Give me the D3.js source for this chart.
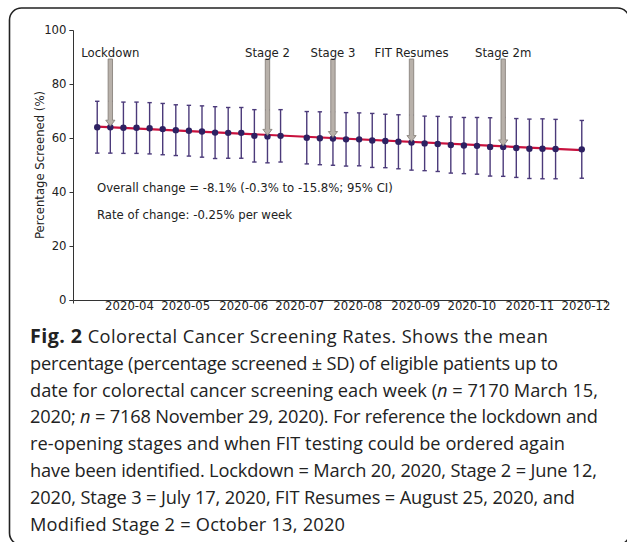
<!DOCTYPE html>
<html>
<head>
<meta charset="utf-8">
<script src="https://cdn.jsdelivr.net/npm/d3@7"></script>
<style>
  body { margin: 0; background: #fff; }
  svg { display: block; }
</style>
</head>
<body>
<div id="chart"></div>
<script>
// weekly means (percentage screened) and SDs
const weekDates = ["2020-03-15","2020-03-22","2020-03-29","2020-04-05","2020-04-12","2020-04-19","2020-04-26",
  "2020-05-03","2020-05-10","2020-05-17","2020-05-24","2020-05-31","2020-06-07","2020-06-14","2020-06-21",
  "2020-07-05","2020-07-12","2020-07-19","2020-07-26","2020-08-02","2020-08-09","2020-08-16","2020-08-23",
  "2020-08-30","2020-09-06","2020-09-13","2020-09-20","2020-09-27","2020-10-04","2020-10-11","2020-10-18",
  "2020-10-25","2020-11-01","2020-11-08","2020-11-15","2020-11-29"];
const meanValues = [64.0,64.0,63.8,63.8,63.6,63.3,62.9,62.7,62.4,62.0,61.9,61.9,60.8,60.6,60.8,
  60.1,59.9,59.8,59.5,59.5,59.1,58.9,58.6,58.3,58.0,57.8,57.4,57.2,57.1,56.7,56.7,56.3,56.0,56.0,55.9,55.8];
const sdValues = [9.6,9.6,9.5,9.5,9.5,9.5,9.4,9.4,9.5,9.6,9.4,9.4,9.7,9.8,9.7,
  9.7,9.8,9.9,9.9,9.8,10.0,9.9,10.0,10.2,10.1,10.2,10.4,10.4,10.5,10.8,10.9,10.9,11.0,11.1,11.0,10.7];

// fitted trend
const trendDates = ["2020-03-15","2020-11-29"];
const trendValues = [64.2, 55.5];

// event markers
const eventLabels = ["Lockdown","Stage 2","Stage 3","FIT Resumes","Stage 2m"];
const eventDates = ["2020-03-22","2020-06-14","2020-07-19","2020-08-30","2020-10-18"];

const yTicks = [0, 20, 40, 60, 80, 100];
const statLines = ["Overall change = -8.1% (-0.3% to -15.8%; 95% CI)", "Rate of change: -0.25% per week"];

const W = 627, H = 542;
const parse = d3.utcParse("%Y-%m-%d");
const pts = weekDates.map((d, i) => ({date: parse(d), mean: meanValues[i], sd: sdValues[i]}));

const svg = d3.select("#chart").append("svg").attr("width", W).attr("height", H);

// frame
svg.append("rect")
  .attr("x", 9.5).attr("y", 8).attr("width", 620).attr("height", 537)
  .attr("rx", 12)
  .attr("fill", "none").attr("stroke", "#222").attr("stroke-width", 1.6);

const plot = {left: 73, right: 606, top: 30, bottom: 300};

// matplotlib style 5% margins
const ext = d3.extent(pts, d => d.date);
const pad = (ext[1] - ext[0]) * 0.05;
const x = d3.scaleUtc()
  .domain([new Date(+ext[0] - pad), new Date(+ext[1] + pad)])
  .range([plot.left, plot.right]);
const y = d3.scaleLinear().domain([0, 100]).range([plot.bottom, plot.top]);

const font = "DejaVu Sans, sans-serif";
const fsz = 11.7;

// axes
const xAxis = svg.append("g")
  .attr("transform", `translate(0,${plot.bottom})`)
  .call(d3.axisBottom(x).ticks(d3.utcMonth.every(1)).tickFormat(d3.utcFormat("%Y-%m")).tickSizeOuter(0).tickSize(3.5).tickPadding(-1.5));
const yAxis = svg.append("g")
  .attr("transform", `translate(${plot.left},0)`)
  .call(d3.axisLeft(y).tickValues(yTicks).tickSizeOuter(0).tickSize(3.5).tickPadding(3));

[xAxis, yAxis].forEach(g => {
  g.select(".domain").attr("stroke", "#333").attr("stroke-width", 1);
  g.selectAll(".tick line").attr("stroke", "#333");
  g.selectAll("text").attr("fill", "#222").attr("font-family", font).attr("font-size", fsz);
});

svg.append("text")
  .attr("transform", `translate(44,165) rotate(-90)`)
  .attr("text-anchor", "middle")
  .attr("font-family", font).attr("font-size", fsz).attr("fill", "#222")
  .text("Percentage Screened (%)");

// error bars
const errColor = "#4b3a7a";
const eb = svg.append("g").attr("stroke", errColor).attr("stroke-width", 1.4);
eb.selectAll(".v").data(pts).join("line")
  .attr("x1", d => x(d.date)).attr("x2", d => x(d.date))
  .attr("y1", d => y(d.mean + d.sd)).attr("y2", d => y(d.mean - d.sd));
eb.selectAll(".ct").data(pts).join("line")
  .attr("x1", d => x(d.date) - 2.2).attr("x2", d => x(d.date) + 2.2)
  .attr("y1", d => y(d.mean + d.sd)).attr("y2", d => y(d.mean + d.sd));
eb.selectAll(".cb").data(pts).join("line")
  .attr("x1", d => x(d.date) - 2.2).attr("x2", d => x(d.date) + 2.2)
  .attr("y1", d => y(d.mean - d.sd)).attr("y2", d => y(d.mean - d.sd));

// trend line
svg.append("path")
  .datum(trendDates.map((d, i) => ({date: parse(d), v: trendValues[i]})))
  .attr("fill", "none").attr("stroke", "#c8123e").attr("stroke-width", 2.2)
  .attr("d", d3.line().x(d => x(d.date)).y(d => y(d.v)));

// markers
svg.selectAll(".dot").data(pts).join("circle")
  .attr("cx", d => x(d.date)).attr("cy", d => y(d.mean))
  .attr("r", 3.2).attr("fill", "#2e2162");

// event arrows
const lookup = new Map(pts.map(p => [+p.date, p.mean]));
eventLabels.forEach((lab, i) => {
  const dt = parse(eventDates[i]);
  const cx = x(dt);
  const top = 59, tip = y(lookup.get(+dt)) - 1;
  const sw = 2.2, hw = 4.6, hl = 6;
  svg.append("path")
    .attr("d", `M${cx - sw},${top}L${cx + sw},${top}L${cx + sw},${tip - hl}L${cx + hw},${tip - hl}L${cx},${tip}L${cx - hw},${tip - hl}L${cx - sw},${tip - hl}Z`)
    .attr("fill", "#b8b1aa").attr("stroke", "#807a74").attr("stroke-width", 0.8);
  svg.append("text")
    .attr("x", cx).attr("y", 57)
    .attr("text-anchor", "middle")
    .attr("font-family", font).attr("font-size", fsz).attr("fill", "#222")
    .text(lab);
});

// stats text
statLines.forEach((t, i) => {
  svg.append("text")
    .attr("x", 97).attr("y", 191.5 + i * 27)
    .attr("font-family", font).attr("font-size", fsz).attr("fill", "#222")
    .text(t);
});

// caption
const caption = [
  [["Fig. 2", "b"], [" Colorectal Cancer Screening Rates. Shows the mean"]],
  [["percentage (percentage screened \u00b1 SD) of eligible patients up to"]],
  [["date for colorectal cancer screening each week ("], ["n", "i"], [" = 7170 March 15,"]],
  [["2020; "], ["n", "i"], [" = 7168 November 29, 2020). For reference the lockdown and"]],
  [["re-opening stages and when FIT testing could be ordered again"]],
  [["have been identified. Lockdown = March 20, 2020, Stage 2 = June 12,"]],
  [["2020, Stage 3 = July 17, 2020, FIT Resumes = August 25, 2020, and"]],
  [["Modified Stage 2 = October 13, 2020"]]
];
// right edge of each caption line in the reference
const lineEnds = [548, 558, 598, 598, 565, 597, 575, 345];
const capFont = "'Open Sans', sans-serif";
const capG = svg.append("g").attr("font-family", capFont).attr("fill", "#222");
const capTexts = caption.map((segs, i) => {
  const t = capG.append("text").attr("x", 30).attr("y", 343 + i * 26.8).attr("font-size", 18);
  segs.forEach(s => {
    const ts = t.append("tspan").text(s[0]);
    if (s[1] === "b") ts.attr("font-weight", "bold").attr("font-size", 19.5);
    if (s[1] === "i") ts.attr("font-style", "italic");
  });
  return t;
});
// size the caption so the third line spans like the reference, then even out spacing per line
const len = capTexts[2].node().getComputedTextLength();
const fs = 18 * 568 / len;
capTexts.forEach((t, i) => {
  t.attr("font-size", fs);
  t.selectAll("tspan").filter(function() { return d3.select(this).attr("font-weight") === "bold"; })
    .attr("font-size", fs * 1.08);
  t.attr("textLength", lineEnds[i] - 30).attr("lengthAdjust", "spacing");
});
</script>
</body>
</html>
